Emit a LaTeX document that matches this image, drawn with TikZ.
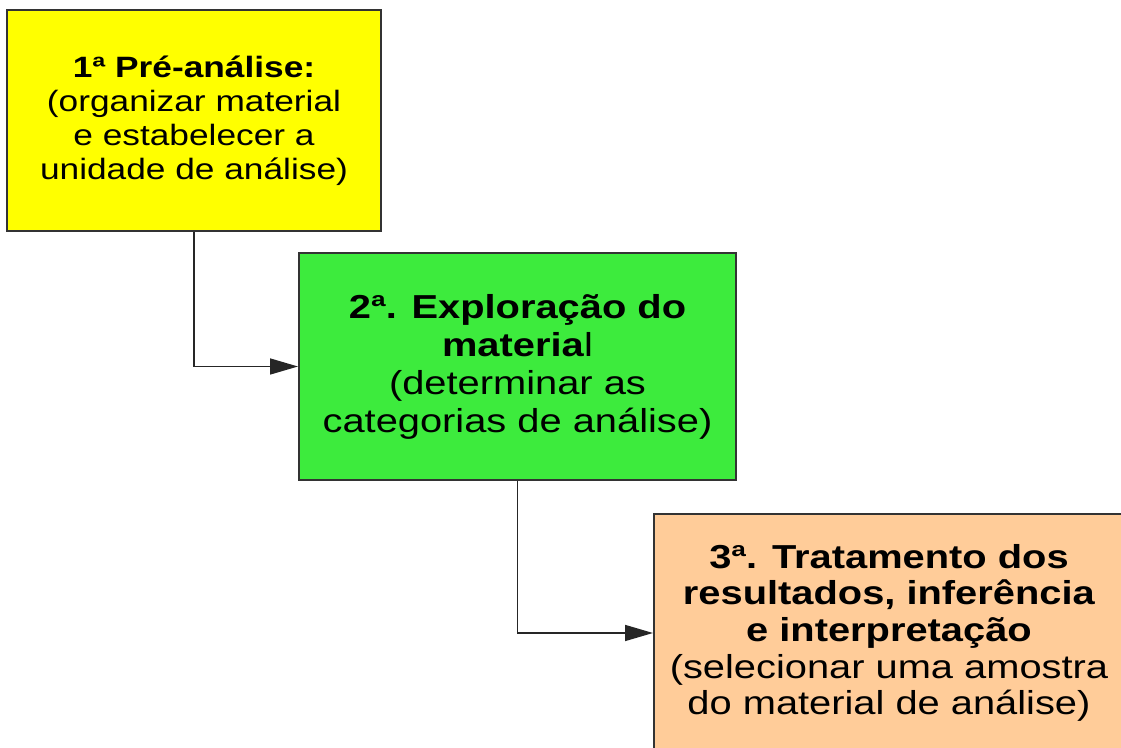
\documentclass[tikz,border=0pt]{standalone}
\usepackage{fontspec}
\setmainfont{Liberation Sans}[FakeStretch=1.2]
\usetikzlibrary{arrows.meta}
\definecolor{amarelo}{HTML}{FFFF00}
\definecolor{verde}{HTML}{3DEB3D}
\definecolor{laranja}{HTML}{FFCC99}
\tikzset{etapa/.style={draw=black!80, line width=1pt, align=center, inner sep=0pt},
seta/.style={-{Triangle[length=14pt,width=8pt]}, line width=0.8pt, black!85}}
\begin{document}
\begin{tikzpicture}[x=0.5pt,y=-0.5pt]
\useasboundingbox (0,0) rectangle (1121,748);
\clip (0,0) rectangle (1121,748);
\node[etapa,fill=amarelo,minimum width=187pt,minimum height=110.5pt,font={\fontsize{14.7}{17}\selectfont}] (pre) at (194,120.5) {\textbf{1ª Pré-análise:}\\(organizar material\\e estabelecer a\\unidade de análise)};
\node[etapa,fill=verde,minimum width=218.5pt,minimum height=113.5pt,font={\fontsize{16.6}{19}\selectfont}] (expl) at (517.5,366.5) {\textbf{2ª. Exploração do}\\\textbf{materia}l\\(determinar as\\categorias de análise)};
\node[etapa,fill=laranja,minimum width=235pt,minimum height=119pt,font={\fontsize{16.6}{18.3}\selectfont}] (trat) at (889,633) {\textbf{3ª. Tratamento dos}\\\textbf{resultados, inferência}\\\textbf{e interpretação}\\(selecionar uma amostra\\do material de análise)};
\draw[seta] (pre.south) |- (expl.west);
\draw[seta] (expl.south) |- (trat.west);
\end{tikzpicture}
\end{document}
